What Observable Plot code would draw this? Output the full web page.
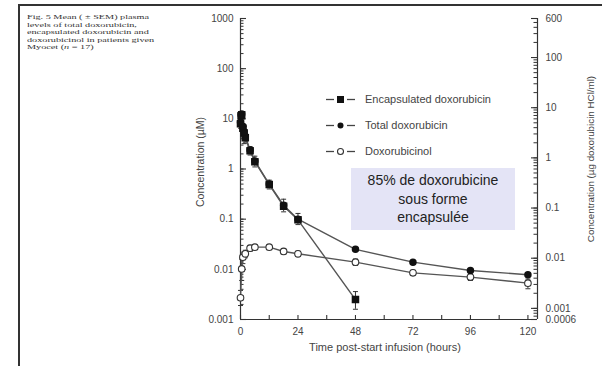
<!DOCTYPE html>
<html><head><meta charset="utf-8">
<script src="https://cdn.jsdelivr.net/npm/d3@7"></script>
<script src="https://cdn.jsdelivr.net/npm/@observablehq/plot@0.6"></script>
<style>
body{margin:0;background:#fff;}
#wrap{position:relative;width:602px;height:366px;overflow:hidden;font-family:"Liberation Sans",Arial,sans-serif;}
#frameTop{position:absolute;left:18px;top:4px;width:584px;height:2px;background:#333;}
#frameLeft{position:absolute;left:18px;top:4px;width:2px;height:362px;background:#333;}
#caption{position:absolute;left:27px;top:13px;font-family:"Liberation Serif","DejaVu Serif",serif;font-size:6.8px;line-height:7.6px;color:#333;transform:scaleX(1.5);transform-origin:0 0;white-space:nowrap;}
#legend{position:absolute;left:325px;top:86px;font-size:11px;color:#444;}
#legend .row{display:flex;align-items:center;height:26px;}
#legend svg{margin-right:8px;}
#note{position:absolute;left:351px;top:168px;width:164px;height:62px;background:#e4e4f6;color:#222;font-size:14px;line-height:18.5px;text-align:center;display:flex;align-items:center;justify-content:center;}
#chart{position:absolute;left:0;top:0;}
</style></head>
<body>
<div id="wrap">
  <div id="chart"></div>
  <div id="frameTop"></div><div id="frameLeft"></div>
  <div id="caption"></div>
  <div id="legend"></div>
  <div id="note"></div>
</div>
<script>
// ---- data ----
const captionLines = ["Fig. 5 Mean ( \u00b1 SEM) plasma","levels of total doxorubicin,","encapsulated doxorubicin and","doxorubicinol in patients given","Myocet (<i>n</i> = 17)"];
const seriesNames = ["Encapsulated doxorubicin","Total doxorubicin","Doxorubicinol"];
const noteLines = ["85% de doxorubicine","sous forme","encapsulée"];

const encT = [0, 0.25, 0.5, 1, 1.5, 2, 4, 6, 12, 18, 24, 48];
const encV = [8.0, 11.5, 12.0, 6.5, 5.2, 4.2, 2.3, 1.4, 0.49, 0.18, 0.097, 0.0025];
const encLo = [6.5, 9.5, 10, 5, 3.2, 3.3, 1.9, 1.1, 0.40, 0.14, 0.078, 0.0016];
const encHi = [9.5, 13.5, 14, 8, 7, 5.2, 2.8, 1.8, 0.60, 0.25, 0.13, 0.0036];

const totT = [0, 0.25, 0.5, 1, 1.5, 2, 4, 6, 12, 18, 24, 48, 72, 96, 120];
const totV = [8.5, 12, 12.5, 7, 5.6, 4.5, 2.4, 1.45, 0.5, 0.19, 0.1, 0.025, 0.0139, 0.0095, 0.0078];

const metT = [0, 0.5, 1, 2, 4, 6, 12, 18, 24, 48, 72, 96, 120];
const metV = [0.0027, 0.0102, 0.0175, 0.0204, 0.0264, 0.0277, 0.0277, 0.0227, 0.0204, 0.0139, 0.0085, 0.007, 0.0053];
const metLo = [0.0019, 0.006, 0.013, 0.017, 0.023, 0.025, 0.025, 0.02, 0.018, 0.012, 0.0075, 0.006, 0.0041];
const metHi = [0.0038, 0.016, 0.022, 0.024, 0.03, 0.031, 0.031, 0.026, 0.023, 0.016, 0.0096, 0.0081, 0.0064];

const xTicks = [0, 24, 48, 72, 96, 120];
const xAllTicks = [0, 12, 24, 36, 48, 60, 72, 84, 96, 108, 120];
const leftTickValues = [1000, 100, 10, 1, 0.1, 0.01, 0.001];
const leftTickLabels = ["1000","100","10","1","0.1","0.01","0.001"];
const rightTickValues = [600, 100, 10, 1, 0.1, 0.01, 0.001, 0.0006];
const rightTickLabels = ["600","100","10","1","0.1","0.01","0.001","0.0006"];
const ugPerMicroM = 0.6; // µg/ml per µM (doxorubicin HCl)

const xLabel = "Time post-start infusion (hours)";
const yLabel = "Concentration (\u00b5M)";
const y2Label = "Concentration (\u00b5g doxorubicin HCl/ml)";

// ---- tables ----
const enc = encT.map((t,i)=>({t, v:encV[i], lo:encLo[i], hi:encHi[i]}));
const tot = totT.map((t,i)=>({t, v:totV[i]}));
const met = metT.map((t,i)=>({t, v:metV[i], lo:metLo[i], hi:metHi[i]}));
const leftMinor = d3.scaleLog().domain([0.001,1000]).ticks();
const rightMinor = d3.scaleLog().domain([0.0006,600]).ticks().map(v=>v/ugPerMicroM);
const rightPos = rightTickValues.map(v=>v/ugPerMicroM);
const right = rightPos.map((p,i)=>({p, label:rightTickLabels[i]}));

const cap = {draw(ctx,size){const w=Math.sqrt(size/Math.PI);ctx.moveTo(-w,0);ctx.lineTo(w,0);}};
const ink = "#333";
const X0 = 0, X1 = 124, Y0 = 0.001;

const chart = Plot.plot({
  width:602, height:366,
  marginLeft:240, marginRight:65, marginTop:18, marginBottom:47,
  style:{fontFamily:'"Liberation Sans",Arial,sans-serif', fontSize:"10px", color:"#444", background:"transparent", overflow:"visible"},
  x:{domain:[X0,X1], axis:null},
  y:{type:"log", domain:[Y0,1000], axis:null},
  marks:[
    // axis lines
    Plot.ruleX([X0], {stroke:ink, strokeWidth:1.2}),
    Plot.ruleX([X1], {stroke:ink, strokeWidth:1.2}),
    Plot.ruleY([Y0], {stroke:ink, strokeWidth:1.2}),
    // inward ticks (zero-length rules extended by insets)
    Plot.ruleY(leftMinor, {y:d=>d, x1:()=>X0, x2:()=>X0, insetRight:-3.5, stroke:ink, strokeWidth:1}),
    Plot.ruleY(leftTickValues, {y:d=>d, x1:()=>X0, x2:()=>X0, insetRight:-6, stroke:ink, strokeWidth:1.1}),
    Plot.ruleY(rightMinor, {y:d=>d, x1:()=>X1, x2:()=>X1, insetRight:3.5, stroke:ink, strokeWidth:1}),
    Plot.ruleY(rightPos, {y:d=>d, x1:()=>X1, x2:()=>X1, insetRight:6, stroke:ink, strokeWidth:1.1}),
    Plot.ruleX(xAllTicks, {x:d=>d, y1:()=>Y0, y2:()=>Y0, insetBottom:4, stroke:ink, strokeWidth:1.1}),
    // tick labels
    Plot.text(leftTickValues, {y:d=>d, frameAnchor:"left", dx:-7, textAnchor:"end",
      text:(d,i)=>leftTickLabels[i], fill:"#444", fontSize:10}),
    Plot.text(right, {y:"p", frameAnchor:"right", dx:8, textAnchor:"start", text:"label", fill:"#444", fontSize:10}),
    Plot.text(xTicks, {x:d=>d, frameAnchor:"bottom", dy:12, lineAnchor:"middle", text:d=>String(d), fill:"#444", fontSize:10}),
    // axis titles
    Plot.text([yLabel], {frameAnchor:"left", rotate:-90, textAnchor:"middle", lineAnchor:"middle", dx:-40, dy:-7, fill:"#444", fontSize:10.5}),
    Plot.text([y2Label], {frameAnchor:"right", rotate:-90, textAnchor:"middle", lineAnchor:"middle", dx:53, dy:-10, fill:"#444", fontSize:9.8}),
    Plot.text([xLabel], {frameAnchor:"bottom", textAnchor:"middle", lineAnchor:"middle", dx:-4, dy:28, fill:"#444", fontSize:11}),
    // error bars
    Plot.ruleX(enc, {x:"t", y1:"lo", y2:"hi", stroke:ink, strokeWidth:1}),
    Plot.dot(enc, {x:"t", y:"lo", symbol:cap, r:2.5, stroke:ink, fill:"none", strokeWidth:1}),
    Plot.dot(enc, {x:"t", y:"hi", symbol:cap, r:2.5, stroke:ink, fill:"none", strokeWidth:1}),
    Plot.ruleX(met, {x:"t", y1:"lo", y2:"hi", stroke:ink, strokeWidth:1}),
    Plot.dot(met, {x:"t", y:"lo", symbol:cap, r:2.5, stroke:ink, fill:"none", strokeWidth:1}),
    Plot.dot(met, {x:"t", y:"hi", symbol:cap, r:2.5, stroke:ink, fill:"none", strokeWidth:1}),
    // lines
    Plot.line(met, {x:"t", y:"v", stroke:"#555", strokeWidth:1.4}),
    Plot.line(tot, {x:"t", y:"v", stroke:"#555", strokeWidth:1.4}),
    Plot.line(enc, {x:"t", y:"v", stroke:"#555", strokeWidth:1.4}),
    // markers
    Plot.dot(met, {x:"t", y:"v", r:3.3, fill:"white", stroke:"#333", strokeWidth:1.1}),
    Plot.dot(tot, {x:"t", y:"v", r:3, fill:"#111", stroke:"#111"}),
    Plot.dot(enc, {x:"t", y:"v", symbol:"square", r:3.4, fill:"#111", stroke:"#111"})
  ]
});
document.getElementById("chart").appendChild(chart);

// caption
document.getElementById("caption").innerHTML = captionLines.map(l=>`<div>${l}</div>`).join("");
// note
document.getElementById("note").innerHTML = `<div>${noteLines.join("<br>")}</div>`;
// legend
const mk = [
  `<rect x="12" y="2" width="7" height="7" fill="#111"/>`,
  `<circle cx="15.5" cy="5.5" r="3" fill="#111"/>`,
  `<circle cx="15.5" cy="5.5" r="3" fill="white" stroke="#333" stroke-width="1.1"/>`
];
document.getElementById("legend").innerHTML = seriesNames.map((n,i)=>
  `<div class="row"><svg width="32" height="11"><line x1="1" x2="9" y1="5.5" y2="5.5" stroke="#444" stroke-width="1.3"/><line x1="22" x2="30" y1="5.5" y2="5.5" stroke="#444" stroke-width="1.3"/>${mk[i]}</svg><span>${n}</span></div>`).join("");
</script>
</body></html>
